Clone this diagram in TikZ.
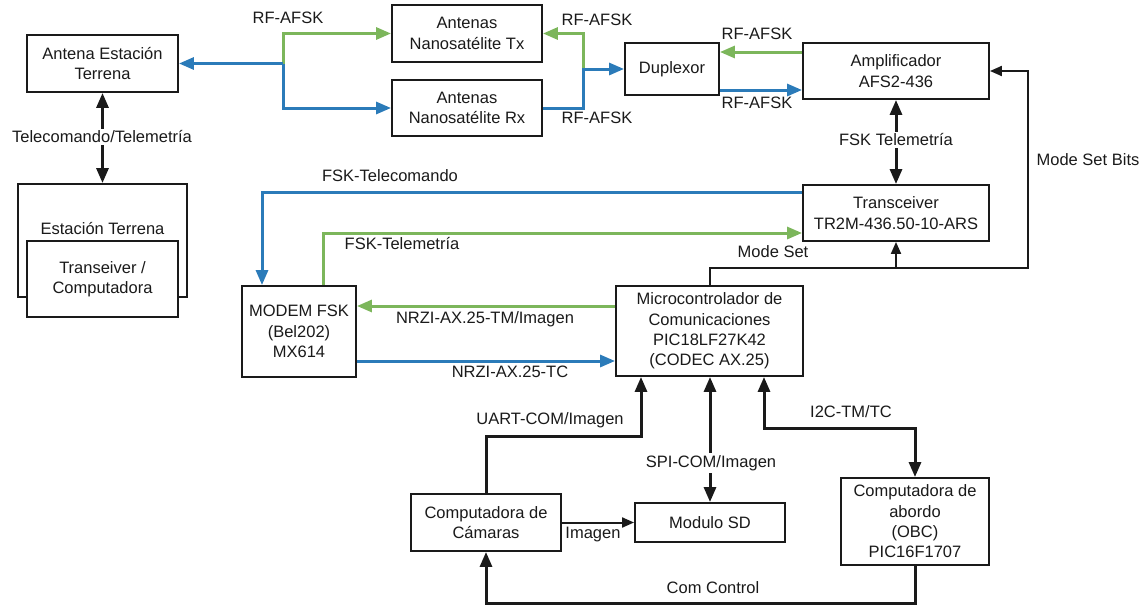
\documentclass[tikz,border=0pt]{standalone}
\usepackage{fontspec}
\setmainfont{Liberation Sans}
\usetikzlibrary{arrows.meta}
\definecolor{linkblue}{HTML}{2B7BB9}
\definecolor{linkgreen}{HTML}{7CB65B}
\definecolor{inkgray}{HTML}{1A1A1A}
\tikzset{
  box/.style={draw=inkgray, line width=1.9pt, fill=white, inner sep=0pt,
              align=center, text=inkgray},
  lbl/.style={text=inkgray, inner sep=1pt},
  gaplbl/.style={fill=white, text=inkgray, inner sep=2pt},
  bluelink/.style={draw=linkblue, line width=3pt,
                   >={Triangle[length=15pt,width=12pt]}},
  greenlink/.style={draw=linkgreen, line width=3pt,
                    >={Triangle[length=15pt,width=12pt]}},
  blacklink/.style={draw=inkgray, line width=3pt,
                    >={Triangle[length=15pt,width=12pt]}},
  thinlink/.style={draw=inkgray, line width=2pt,
                   >={Triangle[length=12pt,width=10pt]}},
}
\begin{document}
\begin{tikzpicture}[x=1pt, y=-1pt, font=\fontsize{16.5}{20.3}\selectfont]
\useasboundingbox (0,0) rectangle (1143,605);

% ground segment
\node[box, minimum width=151pt, minimum height=57pt] (ant) at (102.5,63.5) {Antena Estación\\Terrena};
\node[box, minimum width=169pt, minimum height=113pt] (est) at (102.5,240.5) {};
\node[lbl] (estname) at (102.5,229) {Estación Terrena};
\node[box, minimum width=151pt, minimum height=76pt] (pc) at (102.5,279) {Transeiver /\\Computadora};

% RF chain
\node[box, minimum width=150pt, minimum height=57pt] (tx) at (467,33.5) {Antenas\\Nanosatélite Tx};
\node[box, minimum width=150pt, minimum height=56pt] (rx) at (467,108) {Antenas\\Nanosatélite Rx};
\node[box, minimum width=94pt, minimum height=52pt] (dup) at (672,69) {Duplexor};
\node[box, minimum width=186pt, minimum height=56pt] (amp) at (896,71) {Amplificador\\AFS2-436};
\node[box, minimum width=186pt, minimum height=56pt] (trx) at (896,213) {Transceiver\\TR2M-436.50-10-ARS};

% baseband
\node[box, minimum width=114pt, minimum height=91pt] (modem) at (299,331.5) {MODEM FSK\\(Bel202)\\MX614};
\node[box, minimum width=187pt, minimum height=90pt] (mcu) at (709.5,331) {Microcontrolador de\\Comunicaciones\\PIC18LF27K42\\(CODEC AX.25)};
\node[box, minimum width=150pt, minimum height=57pt] (cam) at (486,522.5) {Computadora de\\Cámaras};
\node[box, minimum width=150pt, minimum height=39pt] (sd) at (710,522.5) {Modulo SD};
\node[box, minimum width=148pt, minimum height=87pt] (obc) at (915,521.5) {Computadora de\\abordo\\(OBC)\\PIC16F1707};

% ground link
\draw[blacklink, <->] (ant.south) -- (est.north);
\node[gaplbl] (tctm) at (102,137) {Telecomando/Telemetría};

% antenna split on the ground side
\coordinate (lsplit) at (283,63.5);
\draw[greenlink, ->] (lsplit) |- (tx.west);
\draw[bluelink, ->] (lsplit) |- (rx.west);
\draw[bluelink, ->] (lsplit) -- (ant.east);
\node[lbl] (rf1) at (288,18) {RF-AFSK};

% antenna split on the satellite side
\coordinate (rsplit) at (583,69);
\draw[greenlink, ->] (rsplit) |- (tx.east);
\draw[bluelink, ->] (rx.east) -| (rsplit) -- (dup.west);
\node[lbl] (rf2) at (597,20) {RF-AFSK};
\node[lbl] (rf3) at (597,118) {RF-AFSK};

% duplexor <-> amplifier
\draw[greenlink, ->] (amp.west |- 0,52) -- (dup.east |- 0,52);
\draw[bluelink, ->] (dup.east |- 0,90) -- (amp.west |- 0,90);
\node[lbl] (rf4) at (757,34) {RF-AFSK};
\node[lbl] (rf5) at (757,103) {RF-AFSK};

% amplifier <-> transceiver
\draw[blacklink, <->] (amp.south) -- (trx.north);
\node[gaplbl] (fsktm) at (896,140) {FSK Telemetría};

% mode set lines
\coordinate (msr) at (1028,268);
\draw[thinlink, ->] (mcu.north) |- (msr) |- (amp.east);
\draw[thinlink, ->] (trx.south |- msr) -- (trx.south);
\node[lbl] (msbits) at (1088,160) {Mode Set Bits};
\node[lbl] (mset) at (773,252) {Mode Set};

% transceiver <-> modem
\draw[bluelink, ->] (trx.west |- 0,192) -| (modem.north -| 262,0);
\draw[greenlink, ->] (modem.north -| 323,0) |- (trx.west |- 0,233);
\node[lbl] (fsktc) at (390,176) {FSK-Telecomando};
\node[lbl] (fsktel) at (402,244) {FSK-Telemetría};

% modem <-> microcontroller
\draw[greenlink, ->] (mcu.west |- 0,306) -- (modem.east |- 0,306);
\draw[bluelink, ->] (modem.east |- 0,361) -- (mcu.west |- 0,361);
\node[lbl] (nrzitm) at (485,319) {NRZI-AX.25-TM/Imagen};
\node[lbl] (nrzitc) at (510,372) {NRZI-AX.25-TC};

% peripherals
\draw[blacklink, ->] (cam.north) |- (641,436) -- (mcu.south -| 641,0);
\node[lbl] (uart) at (550,420) {UART-COM/Imagen};
\draw[blacklink, <->] (mcu.south -| sd.north) -- (sd.north);
\node[gaplbl] (spi) at (711,463) {SPI-COM/Imagen};
\draw[blacklink, <->] (mcu.south -| 764,0) |- (obc.north |- 0,428) -- (obc.north);
\node[lbl] (i2c) at (851,412) {I2C-TM/TC};
\draw[blacklink, ->] (obc.south) -- (obc.south |- 0,603) -| (cam.south);
\node[lbl] (comctl) at (713,588) {Com Control};
\draw[thinlink, ->] (cam.east) -- (sd.west);
\node[lbl] (img) at (593,535) {Imagen};
\end{tikzpicture}
\end{document}
